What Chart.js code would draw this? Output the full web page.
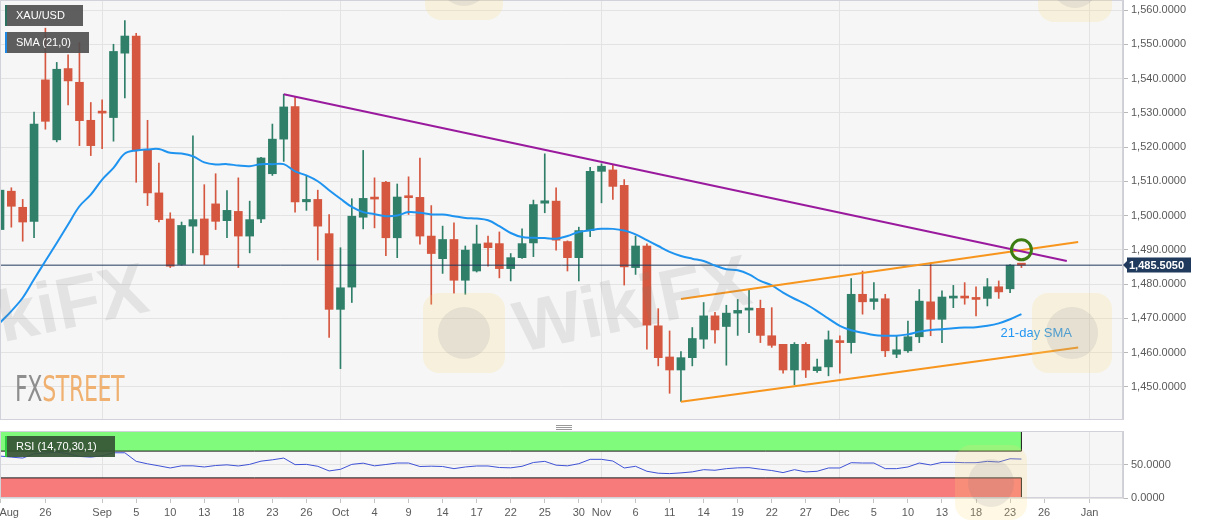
<!DOCTYPE html>
<html>
<head>
<meta charset="utf-8">
<script src="https://cdn.jsdelivr.net/npm/chart.js@4.4.1/dist/chart.umd.min.js"></script>
<style>
  html, body { margin:0; padding:0; background:#ffffff; }
  #wrap { position:relative; width:1207px; height:526px; overflow:hidden; font-family:"Liberation Sans", Arial, sans-serif; }
  canvas { position:absolute; left:0; }
  #cMain { top:0; }
  #cRsi { top:420px; }
  .wm { position:absolute; font-family:"Liberation Sans", Arial, sans-serif; font-weight:bold; font-size:72px; line-height:72px; color:rgba(120,120,120,0.15); transform:rotate(-12deg); transform-origin:left center; white-space:nowrap; pointer-events:none; }
  .logo { position:absolute; border-radius:16px; background:rgba(250,220,120,0.20); pointer-events:none; }
  .logo::after { content:""; position:absolute; left:18%; top:18%; width:64%; height:64%; border-radius:50%; background:rgba(110,110,120,0.12); }
  .tag { position:absolute; left:5px; height:21px; line-height:21px; color:#fff; font-size:11px; box-sizing:border-box; padding-left:11px; white-space:nowrap; }
  .tag::before { content:""; position:absolute; left:0; top:0; width:2px; height:100%; background:var(--stripe); }
  #fx { position:absolute; left:15px; top:371px; font-family:"Liberation Sans Narrow","DejaVu Sans Condensed","Liberation Sans",sans-serif; font-size:36px; line-height:36px; white-space:nowrap; transform-origin:left top; letter-spacing:-0.5px; }
  #fx .a { color:#8e8e8e; }
  #fx .b { color:#efb070; }
  #grip { position:absolute; left:556px; top:425px; width:16px; height:5px; border-top:1px solid #9a9a9a; border-bottom:1px solid #9a9a9a; box-sizing:border-box; }
  #grip::after { content:""; position:absolute; left:0; top:1px; width:16px; height:1px; background:#9a9a9a; }
</style>
</head>
<body>
<div id="wrap">
  <canvas id="cMain" width="1207" height="420"></canvas>
  <canvas id="cRsi" width="1207" height="106"></canvas>

  <div class="logo" style="left:423px;top:293px;width:82px;height:80px;"></div>
  <div class="logo" style="left:1032px;top:293px;width:80px;height:80px;"></div>
  <div class="logo" style="left:1038px;top:-58px;width:74px;height:80px;"></div>
  <div class="logo" style="left:425px;top:-60px;width:78px;height:80px;"></div>
  <div class="logo" style="left:955px;top:445px;width:72px;height:75px;"></div>
  <div class="wm" style="left:-88px;top:300px;">WikiFX</div>
  <div class="wm" style="left:515px;top:292px;">WikiFX</div>

  <div id="fx"><span class="a">FX</span><span class="b">STREET</span></div>
  <div id="grip"></div>

  <div class="tag" style="top:5px;width:78px;background:rgba(78,78,78,0.9);--stripe:#2c7060;">XAU/USD</div>
  <div class="tag" style="top:32px;width:84px;background:rgba(78,78,78,0.9);--stripe:#1e88e5;">SMA (21,0)</div>
  <div class="tag" style="top:436px;width:110px;background:rgba(52,84,52,0.92);--stripe:#2ecc40;">RSI (14,70,30,1)</div>
</div>

<script>
// ---------------- DATA ----------------
// trading-day index 0 = Aug 20, 2019 ... 90 = Dec 24, 2019
const opens = [1495.9,1507.1,1502.4,1498.3,1539.6,1522.1,1542.9,1538.9,1527.8,1530.2,
  1528.6,1547.4,1552.4,1519.2,1506.6,1499.0,1485.7,1496.9,1499.0,1503.4,
  1498.5,1501.2,1494.0,1499.0,1512.2,1522.3,1531.8,1504.0,1504.7,1494.7,
  1472.6,1479.1,1499.5,1505.1,1509.7,1493.5,1505.5,1505.3,1494.0,1487.4,
  1493.0,1481.1,1483.8,1492.0,1491.8,1484.5,1487.7,1492.0,1503.6,1504.2,
  1492.4,1487.7,1495.6,1512.9,1513.3,1508.8,1484.8,1491.1,1467.8,1458.7,
  1454.9,1458.5,1463.9,1470.7,1467.6,1471.5,1472.4,1472.9,1464.9,1462.4,
  1454.9,1462.4,1454.7,1455.8,1463.4,1462.9,1477.0,1474.9,1475.7,1459.5,
  1460.5,1464.6,1474.8,1469.7,1475.9,1476.3,1475.8,1475.8,1479.2,1478.6,
  1485.7];
const highs = [1508.1,1508.1,1504.7,1530.2,1554.7,1544.7,1546.9,1550.5,1533.0,1533.8,
  1550.0,1556.9,1553.2,1527.8,1515.3,1500.8,1498.1,1523.3,1509.0,1512.2,
  1507.3,1511.0,1504.2,1517.0,1526.7,1535.4,1534.6,1511.5,1507.4,1500.3,
  1490.6,1504.9,1519.0,1511.0,1510.0,1509.2,1511.3,1516.8,1502.9,1496.9,
  1497.9,1491.1,1497.2,1494.0,1495.2,1488.9,1496.1,1504.5,1518.0,1508.1,
  1492.6,1496.6,1514.1,1515.1,1514.7,1510.5,1494.0,1491.7,1472.8,1466.3,
  1460.3,1467.3,1474.6,1471.7,1473.8,1475.5,1478.4,1475.3,1473.1,1462.4,
  1462.9,1462.9,1458.1,1466.3,1464.9,1481.6,1483.8,1480.4,1477.0,1464.9,
  1469.2,1478.4,1486.2,1478.0,1479.6,1480.4,1479.2,1481.6,1480.9,1485.7,
  1486.0];
const lows = [1493.2,1496.6,1492.5,1493.5,1525.2,1521.5,1532.3,1520.4,1517.5,1519.5,
  1521.7,1534.3,1509.7,1502.9,1498.1,1484.8,1485.5,1489.1,1485.7,1495.9,
  1493.5,1484.8,1489.1,1497.9,1511.7,1515.8,1501.0,1501.5,1487.0,1464.4,
  1455.3,1474.6,1496.1,1496.4,1488.3,1487.7,1500.3,1491.6,1474.1,1483.1,
  1477.3,1477.0,1483.5,1485.2,1481.8,1480.9,1487.5,1488.0,1500.8,1489.9,
  1483.8,1480.9,1493.8,1503.7,1504.7,1479.7,1482.8,1461.0,1456.1,1448.1,
  1445.7,1456.1,1461.2,1462.7,1456.3,1465.0,1465.8,1462.9,1461.5,1454.0,
  1450.6,1452.7,1454.2,1453.2,1454.0,1459.8,1471.2,1472.6,1458.8,1458.5,
  1460.0,1462.9,1464.9,1462.9,1473.1,1474.1,1470.7,1473.6,1475.8,1477.5,
  1484.8];
const closes = [1507.4,1502.7,1498.1,1526.7,1527.5,1542.7,1539.3,1527.7,1520.4,1529.9,
  1547.9,1552.4,1519.2,1506.6,1498.8,1485.2,1497.1,1498.8,1488.5,1498.3,
  1501.5,1494.0,1498.8,1516.8,1522.3,1531.7,1504.0,1504.7,1496.9,1472.6,
  1478.9,1499.8,1505.0,1504.8,1493.5,1505.4,1505.2,1494.0,1488.9,1493.0,
  1481.1,1489.9,1491.7,1490.6,1484.5,1487.7,1491.8,1503.2,1504.3,1492.8,
  1487.7,1495.6,1512.9,1514.4,1508.5,1485.0,1491.1,1468.0,1458.5,1454.9,
  1458.5,1464.1,1470.7,1466.6,1471.5,1472.3,1472.7,1465.0,1462.1,1454.9,
  1462.4,1454.9,1455.8,1463.7,1462.9,1477.0,1474.8,1475.7,1460.5,1460.8,
  1464.6,1475.0,1469.7,1476.2,1476.4,1475.9,1475.5,1479.2,1477.7,1485.5,
  1485.505];
const sma21 = [1468.7,1472.1,1476.0,1481.4,1486.7,1492.0,1497.4,1502.7,1506.1,1510.5,
  1513.9,1518.1,1519.0,1519.3,1519.4,1518.3,1518.1,1517.3,1515.5,1514.9,
  1515.0,1514.6,1514.4,1515.0,1515.0,1515.0,1512.9,1511.7,1510.0,1507.4,
  1504.9,1502.5,1501.0,1500.4,1499.8,1500.0,1501.0,1500.8,1500.3,1500.3,
  1499.8,1499.3,1499.1,1498.6,1496.9,1494.9,1493.7,1493.5,1493.4,1493.2,
  1494.0,1495.2,1495.7,1496.1,1496.1,1495.6,1494.5,1492.8,1491.1,1489.4,
  1488.2,1487.4,1486.7,1485.4,1484.3,1484.0,1482.8,1480.9,1479.6,1477.5,
  1475.7,1474.1,1472.1,1469.9,1467.8,1466.5,1465.8,1465.1,1464.9,1464.9,
  1465.3,1466.1,1466.6,1466.8,1467.1,1467.3,1467.4,1467.8,1468.5,1469.7,
  1471.2];
const rsi14 = [62.6,61.0,59.6,66.0,67.0,68.5,66.0,62.0,61.0,63.0,
  67.5,67.5,54.7,51.0,48.0,44.8,48.0,48.0,46.3,48.5,
  49.5,47.8,50.2,55.0,57.0,59.6,49.8,50.2,47.3,40.4,
  42.8,50.2,52.0,48.0,50.0,52.2,52.2,47.0,47.5,47.0,
  43.8,46.3,47.8,47.8,45.5,45.0,47.3,53.0,54.7,49.0,
  48.0,51.2,57.7,57.7,55.2,44.8,47.3,39.9,37.0,36.4,
  37.5,39.0,42.3,41.4,43.8,45.0,45.3,43.0,41.0,37.9,
  42.3,38.9,39.9,44.8,44.8,52.7,52.2,52.2,43.8,43.8,
  46.3,52.2,49.3,53.2,53.2,52.7,52.7,54.7,53.7,58.6,
  58.1];
const xTickIdx    = [0,4,9,12,15,18,21,24,27,30,33,36,39,42,45,48,51,53,56,59,62,65,68,71,74,77,80,83,86,89,92,96];
const xTickLabels = ['Aug','26','Sep','5','10','13','18','23','26','Oct','4','9','14','17','22','25','30','Nov','6','11','14','19','22','27','Dec','5','10','13','18','23','26','Jan'];
const monthIdx    = [9,30,53,74,96];
const yTicks      = [1450,1460,1470,1480,1490,1500,1510,1520,1530,1540,1550,1560];
const rsiTicks    = [0,50];
const rsiLevels   = [30,70];
const downTrend   = [[25,1535.4],[94,1486.7]];
const channelHigh = [[60,1475.6],[95,1492.3]];
const channelLow  = [[60,1445.6],[95,1461.5]];
const crossMark   = [[90,1490.0]];
const smaLabel    = { text:'21-day SMA', x:91.3, y:1465.7 };
const lastPrice   = 1485.505;

// ---------------- STYLE ----------------
const X_MIN = 0, X_MAX = 98.95;
const Y_MIN = 1440.3, Y_MAX = 1562.92;
const GREEN = '#2f7f69', RED = '#d5573f', SMA_BLUE = '#1e93ef', PURPLE = '#9a1a9e', ORANGE = '#f7951d';
const NAVY = '#1f3a5c', GRID = '#e3e3e3', BG = '#f6f6f6', LABEL = '#5a5a5a';
const FONT = { family: '"Liberation Sans", Arial, sans-serif', size: 11 };

const toPts = arr => arr.map(p => ({ x: p[0], y: p[1] }));
const n = closes.length;
const candleColors = closes.map((c, i) => c >= opens[i] ? GREEN : RED);
const bodies = closes.map((c, i) => ({ x: i, y: [opens[i], c] }));
const wicks  = closes.map((c, i) => ({ x: i, y: [lows[i], highs[i]] }));
const smaPts = sma21.map((v, i) => ({ x: i, y: v }));
const rsiPts = rsi14.map((v, i) => ({ x: i, y: v }));

function fixX(h) { return s => { s.height = h; s.paddingLeft = 0; s.paddingRight = 0; s.paddingTop = 0; s.paddingBottom = 0; }; }
function fixY(w) { return s => { s.width = w; s.paddingLeft = 0; s.paddingRight = 0; s.paddingTop = 0; s.paddingBottom = 0; }; }

const areaPlugin = {
  id: 'areaBg',
  beforeDraw(chart) {
    const a = chart.chartArea, ctx = chart.ctx;
    ctx.save(); ctx.fillStyle = BG; ctx.fillRect(a.left, a.top, a.right - a.left, a.bottom - a.top); ctx.restore();
  },
  afterDraw(chart) {
    const a = chart.chartArea, ctx = chart.ctx;
    ctx.save(); ctx.strokeStyle = '#d2d2da'; ctx.lineWidth = 1;
    ctx.strokeRect(a.left + 0.5, a.top + 0.5, a.right - a.left - 1, a.bottom - a.top - 1);
    ctx.restore();
  }
};

const mainExtras = {
  id: 'mainExtras',
  afterDraw(chart) {
    const ctx = chart.ctx, xs = chart.scales.x, ys = chart.scales.y, a = chart.chartArea;
    ctx.save();
    ctx.font = '13px "Liberation Sans", Arial, sans-serif';
    ctx.fillStyle = '#2196f3'; ctx.textAlign = 'center'; ctx.textBaseline = 'middle';
    ctx.fillText(smaLabel.text, xs.getPixelForValue(smaLabel.x), ys.getPixelForValue(smaLabel.y));
    ctx.restore();
    const y = Math.round(ys.getPixelForValue(lastPrice));
    const x0 = a.right + 4, w = 64, h = 15;
    ctx.save();
    ctx.fillStyle = NAVY;
    ctx.beginPath();
    ctx.moveTo(a.right, y); ctx.lineTo(x0, y - 4); ctx.lineTo(x0, y - h / 2); ctx.lineTo(x0 + w, y - h / 2);
    ctx.lineTo(x0 + w, y + h / 2); ctx.lineTo(x0, y + h / 2); ctx.lineTo(x0, y + 4); ctx.closePath(); ctx.fill();
    ctx.font = 'bold 11px "Liberation Sans", Arial, sans-serif';
    ctx.fillStyle = '#ffffff'; ctx.textBaseline = 'middle'; ctx.textAlign = 'left';
    ctx.fillText(lastPrice.toLocaleString('en-US', { minimumFractionDigits: 4, maximumFractionDigits: 4 }), x0 + 2, y + 0.5);
    ctx.restore();
  }
};

Chart.defaults.font.family = FONT.family;
Chart.defaults.font.size = FONT.size;

new Chart(document.getElementById('cMain'), {
  type: 'bar',
  data: {
    datasets: [
      { type: 'line', data: toPts(crossMark), showLine: false, pointRadius: 10, pointHoverRadius: 10,
        pointBorderColor: '#3b7d12', pointBorderWidth: 3, pointBackgroundColor: 'rgba(0,0,0,0)', order: 1 },
      { type: 'line', data: toPts(downTrend), borderColor: PURPLE, borderWidth: 2, pointRadius: 0, order: 2 },
      { type: 'line', data: toPts(channelHigh), borderColor: ORANGE, borderWidth: 2, pointRadius: 0, order: 3 },
      { type: 'line', data: toPts(channelLow), borderColor: ORANGE, borderWidth: 2, pointRadius: 0, order: 3 },
      { type: 'line', data: smaPts, borderColor: SMA_BLUE, borderWidth: 2, pointRadius: 0, tension: 0.35, order: 4 },
      { type: 'line', data: [{ x: X_MIN - 2, y: lastPrice }, { x: X_MAX + 2, y: lastPrice }],
        borderColor: NAVY, borderWidth: 1, pointRadius: 0, order: 5 },
      { data: bodies, backgroundColor: candleColors, borderWidth: 0, barThickness: 8, grouped: false, minBarLength: 2, order: 6 },
      { data: wicks, backgroundColor: candleColors, borderWidth: 0, barThickness: 1, grouped: false, order: 7 }
    ]
  },
  options: {
    responsive: false, animation: false, devicePixelRatio: 1,
    layout: { padding: 0, autoPadding: false },
    plugins: { legend: { display: false }, tooltip: { enabled: false } },
    scales: {
      x: {
        type: 'linear', min: X_MIN, max: X_MAX, offset: false,
        afterBuildTicks: s => { s.ticks = monthIdx.map(v => ({ value: v })); },
        afterFit: fixX(0),
        ticks: { display: false },
        grid: { color: GRID, drawTicks: false, offset: false },
        border: { display: false }
      },
      y: {
        position: 'right', min: Y_MIN, max: Y_MAX,
        afterBuildTicks: s => { s.ticks = yTicks.map(v => ({ value: v })); },
        afterFit: fixY(84),
        ticks: { color: LABEL, padding: 3, font: FONT,
          callback: v => v.toLocaleString('en-US', { minimumFractionDigits: 4, maximumFractionDigits: 4 }) },
        grid: { color: GRID, tickLength: 5, tickColor: '#b8b8b8' },
        border: { display: true, color: '#cfcfd6' }
      }
    }
  },
  plugins: [areaPlugin, mainExtras]
});

new Chart(document.getElementById('cRsi'), {
  type: 'line',
  data: {
    datasets: [
      { data: rsiPts, borderColor: '#3f52d6', borderWidth: 1, pointRadius: 0, tension: 0, order: 1 },
      { data: [{ x: X_MIN - 2, y: rsiLevels[1] }, { x: n - 1, y: rsiLevels[1] }], borderColor: '#1a1a1a', borderWidth: 1,
        pointRadius: 0, fill: { value: 100 }, backgroundColor: '#80fb7c', order: 3 },
      { data: [{ x: X_MIN - 2, y: rsiLevels[0] }, { x: n - 1, y: rsiLevels[0] }], borderColor: '#1a1a1a', borderWidth: 1,
        pointRadius: 0, fill: { value: 0 }, backgroundColor: '#f87b7b', order: 3 },
      { data: [{ x: n - 1, y: rsiLevels[1] }, { x: n - 1, y: 100 }], borderColor: '#1a1a1a', borderWidth: 1, pointRadius: 0, order: 2 },
      { data: [{ x: n - 1, y: 0 }, { x: n - 1, y: rsiLevels[0] }], borderColor: '#1a1a1a', borderWidth: 1, pointRadius: 0, order: 2 }
    ]
  },
  options: {
    responsive: false, animation: false, devicePixelRatio: 1,
    layout: { padding: { top: 11, left: 0, right: 0, bottom: 0 }, autoPadding: false },
    plugins: { legend: { display: false }, tooltip: { enabled: false } },
    scales: {
      x: {
        type: 'linear', min: X_MIN, max: X_MAX,
        afterBuildTicks: s => { s.ticks = xTickIdx.map(v => ({ value: v })); },
        afterFit: fixX(28),
        ticks: { color: LABEL, font: FONT, padding: 3, autoSkip: false, maxRotation: 0,
          callback: (v, k) => (k === 0 ? '      ' : '') + xTickLabels[k] },
        grid: { color: c => (c.tick && monthIdx.includes(c.tick.value)) ? GRID : 'rgba(0,0,0,0)',
          tickColor: '#c4c4c4', tickLength: 5 },
        border: { display: false }
      },
      y: {
        position: 'right', min: 0, max: 100,
        afterBuildTicks: s => { s.ticks = rsiTicks.map(v => ({ value: v })); },
        afterFit: fixY(84),
        ticks: { color: LABEL, padding: 3, font: FONT,
          callback: v => v.toLocaleString('en-US', { minimumFractionDigits: 4, maximumFractionDigits: 4 }) },
        grid: { color: GRID, tickLength: 5, tickColor: '#b8b8b8' },
        border: { display: true, color: '#cfcfd6' }
      }
    }
  },
  plugins: [areaPlugin]
});

const fx = document.getElementById('fx');
fx.style.transform = 'scale(' + (109 / fx.offsetWidth) + ',1)';
</script>
</body>
</html>
